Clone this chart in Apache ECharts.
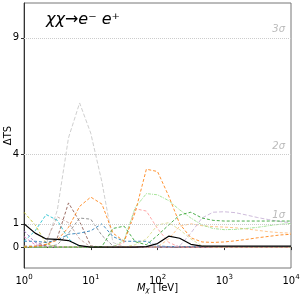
<!DOCTYPE html>
<html><head><meta charset="utf-8">
<script src="https://cdn.jsdelivr.net/npm/echarts@6/dist/echarts.min.js"></script>
<style>html,body{margin:0;padding:0;background:#fff}#c{width:304px;height:299px}</style>
</head><body><div id="c"></div>
<script>
const masses = [1,1.47,2.15,3.16,4.64,6.81,10,14.7,21.5,31.6,46.4,68.1,100,147,215,316,464,681,1000,1470,2150,3160,4640,6810,10000];
const yTicks = [0,1,4,9];
const xTicks = [1,10,100,1000,10000];
const sigmaLevels = [1,4,9];
const sigmaLabels = ['1σ','2σ','3σ'];
const titleText = 'χχ→e⁻ e⁺';

const sLightGray = [0,0,0.1,1.6,4.7,6.2,4.9,2.8,0.2,0,0,0,0,0,0,0,0,0,0,0,0,0,0,0,0];
const sOrange    = [0,0.03,0.12,0.3,0.85,1.75,2.15,1.85,0.6,0.25,1.5,3.35,3.25,2.2,1.0,0.4,0.22,0.2,0.22,0.27,0.33,0.4,0.46,0.52,0.55];
const sLightGreen= [0,0,0,0,0,0,0,0,0,0.3,1.7,2.3,2.25,2.0,1.6,1.25,0.95,0.8,0.75,0.76,0.8,0.85,0.92,0.98,1.02];
const sGreen     = [0,0,0,0,0,0,0,0.02,0.8,0.9,0.23,0.1,0.5,0.95,1.38,1.5,1.25,1.15,1.12,1.12,1.12,1.12,1.12,1.12,1.12];
const sLightRed  = [0,0,0,0,0,0,0,0,0,0.2,1.65,1.55,0.8,0.2,0,0,0,0,0,0,0,0,0,0,0];
const sLightOlive= [0,0,0,0,0,0,0,0,0,0,0.1,0.35,0.95,1.05,0.75,0.35,0.05,0,0,0,0,0,0,0,0];
const sLightOrange=[0,0,0,0,0,0,0,0,0,0,0,0,0,0.35,0.9,1.0,0.92,0.88,0.86,0.83,0.78,0.72,0.66,0.62,0.6];
const sLightPurple=[0,0,0,0,0,0,0,0,0,0,0,0,0,0,0.05,0.6,1.25,1.5,1.52,1.48,1.38,1.27,1.18,1.1,1.05];
const sBrown     = [0,0,0.1,0.4,1.9,1.1,0.05,0,0,0,0,0,0,0,0,0,0,0,0,0,0,0,0,0,0];
const sLightBrown= [0.05,0.05,0.25,1.3,1.05,0.35,0,0,0,0,0,0,0,0,0,0,0,0,0,0,0,0,0,0,0];
const sCyan      = [0.25,0.7,1.4,1.15,0.35,0,0,0,0,0,0,0,0,0,0,0,0,0,0,0,0,0,0,0,0];
const sOlive     = [1.5,0.95,0.15,0,0,0,0,0,0,0,0,0,0,0,0,0,0,0,0,0,0,0,0,0,0];
const sGray      = [0,0,0,0.1,0.6,1.25,1.2,0.5,0.05,0,0,0,0,0,0,0,0,0,0,0,0,0,0,0,0];
const sBlue      = [0.25,0.25,0.2,0.3,0.55,0.6,0.7,1.0,0.45,0.25,0.25,0.25,0.05,0.02,0.02,0.02,0.02,0.02,0.02,0.02,0.02,0.02,0.02,0.02,0.02];
const sPurple    = [0.7,0.2,0.05,0,0,0,0,0,0,0,0,0,0,0,0,0,0,0,0,0,0,0,0,0,0];
const sPink      = [0.45,0.1,0.02,0,0,0,0,0,0,0,0,0,0,0,0,0,0,0,0,0,0,0,0,0,0];
const sStacked   = [1.0,0.6,0.35,0.33,0.28,0.06,0,0,0,0,0,0.02,0.15,0.47,0.38,0.12,0.04,0.04,0.04,0.04,0.04,0.04,0.04,0.04,0.04];

const lines = [
  [sLightGray,'#c7c7c7',[4,2]],
  [sLightBrown,'#c49c94',[3,2]],
  [sCyan,'#17becf',[3,2]],
  [sOlive,'#bcbd22',[3,2]],
  [sPurple,'#9467bd',[3,2]],
  [sPink,'#e377c2',[3,2]],
  [sBrown,'#8c564b',[3,2]],
  [sGray,'#7f7f7f',[3,2]],
  [sBlue,'#1f77b4',[3,2]],
  [sLightRed,'#ff9896',[3,2]],
  [sLightOlive,'#dbdb8d',[3,2]],
  [sLightOrange,'#ffbb78',[3,2]],
  [sLightPurple,'#c5b0d5',[4,2]],
  [sLightGreen,'#98df8a',[3,1,1,1]],
  [sGreen,'#2ca02c',[3,2]],
  [sOrange,'#ff7f0e',[3,2]]
];
const pairs = a => masses.map((m,i)=>[m,a[i]]);
const series = lines.map(([d,c,dash])=>({
  type:'line', data:pairs(d), symbol:'none', silent:true,
  lineStyle:{color:c,width:1,type:dash,opacity:0.85}
}));
series.push({
  type:'line', data:pairs(sStacked), symbol:'none', silent:true, z:5,
  lineStyle:{color:'#000',width:1.2},
  markLine:{
    silent:true, symbol:'none', animation:false,
    lineStyle:{color:'#cccccc',type:[1,1],width:1},
    label:{position:'insideEndTop',color:'#bbbbbb',fontStyle:'italic',fontSize:10,fontFamily:'DejaVu Sans',distance:[6,3]},
    data: sigmaLevels.map((v,i)=>({yAxis:v,label:{formatter:sigmaLabels[i]}}))
  }
});
const chart = echarts.init(document.getElementById('c'),null,{renderer:'canvas'});
chart.setOption({
  animation:false,
  title:{text:titleText,left:41,top:7,textStyle:{fontFamily:'DejaVu Sans',fontStyle:'italic',fontWeight:'normal',fontSize:16,color:'#000'}},
  grid:{left:24,right:13,top:3,bottom:31,containLabel:false,outerBoundsMode:'none',show:true,borderColor:'#777',borderWidth:1},
  xAxis:{type:'log',logBase:10,min:1,max:10000,
    axisLine:{lineStyle:{color:'#333'}},
    axisTick:{show:true,inside:false,length:3,lineStyle:{color:'#333'}},
    splitLine:{show:false},
    axisLabel:{margin:4,formatter:v=>{const e=Math.round(Math.log10(v));return '{b|10}{e|'+e+'}';},
      rich:{b:{fontFamily:'DejaVu Sans',fontSize:10,color:'#000',padding:[4,0,0,0]},e:{fontFamily:'DejaVu Sans',fontSize:7,color:'#000',padding:[0,0,4,0]}}},
    name:'{m|M}{c|χ}{t| [TeV]}',nameLocation:'middle',nameGap:14,nameMoveOverlap:false,
    nameTextStyle:{rich:{m:{fontFamily:'DejaVu Sans',fontStyle:'italic',fontSize:10,color:'#000'},c:{fontFamily:'DejaVu Sans',fontStyle:'italic',fontSize:7,color:'#000',padding:[5,0,0,0]},t:{fontFamily:'DejaVu Sans',fontSize:10,color:'#000'}}}
  },
  yAxis:{type:'value',min:-0.9,max:10.5,
    axisLine:{show:true,lineStyle:{color:'#333'}},
    axisTick:{show:true,length:3,customValues:yTicks,lineStyle:{color:'#333'}},
    splitLine:{show:false},
    axisLabel:{customValues:yTicks,fontFamily:'DejaVu Sans',fontSize:10,color:'#000',margin:5},
    name:'ΔTS',nameLocation:'middle',nameGap:11,nameMoveOverlap:false,
    nameTextStyle:{fontFamily:'DejaVu Sans',fontSize:10,color:'#000'}
  },
  series
});
</script></body></html>
